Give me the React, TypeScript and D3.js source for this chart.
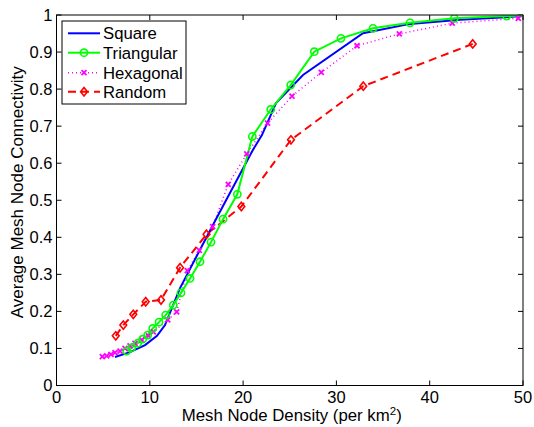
import React from "react";
import * as d3 from "d3";

const xTicks = [0, 10, 20, 30, 40, 50];
const yTicks = [0, 0.1, 0.2, 0.3, 0.4, 0.5, 0.6, 0.7, 0.8, 0.9, 1];
const yTickLabels = ["0", "0.1", "0.2", "0.3", "0.4", "0.5", "0.6", "0.7", "0.8", "0.9", "1"];

const squareX = [6.27, 7.88, 9.49, 10.77, 11.63, 13.24, 16.99, 21.06, 22.02, 23.53, 26.42, 32.85, 37.89, 43.25, 50];
const squareY = [0.077, 0.09, 0.109, 0.134, 0.163, 0.263, 0.444, 0.636, 0.676, 0.762, 0.838, 0.951, 0.976, 0.987, 0.997];

const triX = [7.52, 8.06, 8.7, 9.24, 9.77, 10.31, 10.99, 11.7, 12.52, 13.34, 14.31, 15.38, 16.56, 17.85, 19.38, 20.99, 22.96, 25.1, 27.63, 30.49, 33.92, 37.89, 42.64, 48.25, 54.5];
const triY = [0.093, 0.102, 0.114, 0.125, 0.136, 0.154, 0.171, 0.19, 0.217, 0.25, 0.289, 0.334, 0.387, 0.449, 0.516, 0.672, 0.745, 0.811, 0.901, 0.937, 0.964, 0.979, 0.991, 0.997, 1.0];

const hexX = [4.91, 5.38, 5.84, 6.27, 6.81, 7.34, 7.88, 8.41, 9.13, 9.84, 10.38, 11.92, 12.88, 14.02, 15.31, 16.74, 18.41, 20.39, 22.62, 25.24, 28.38, 32.21, 36.74, 42.42, 49.5];
const hexY = [0.078, 0.08, 0.084, 0.089, 0.093, 0.1, 0.107, 0.114, 0.123, 0.134, 0.145, 0.177, 0.199, 0.31, 0.365, 0.429, 0.543, 0.625, 0.708, 0.781, 0.845, 0.917, 0.949, 0.978, 0.991];

const randX = [6.35, 7.16, 8.23, 9.56, 11.2, 13.24, 16.08, 19.81, 25.13, 32.88, 44.61];
const randY = [0.134, 0.163, 0.192, 0.226, 0.231, 0.318, 0.408, 0.483, 0.663, 0.808, 0.922];

const seriesNames = ["Square", "Triangular", "Hexagonal", "Random"];

const W = 534;
const H = 427;
const L = 56.5, R = 523, T = 15, B = 385.5;
const FONT = "'Liberation Sans', Arial, Helvetica, sans-serif";

function zip(xs: number[], ys: number[]): [number, number][] {
  return xs.map((x, i) => [x, ys[i]]);
}

export default function App() {
  const x = d3.scaleLinear().domain([0, 50]).range([L, R]);
  const y = d3.scaleLinear().domain([0, 1]).range([B, T]);
  const line = d3.line<[number, number]>().x((d) => x(d[0])).y((d) => y(d[1]));

  const sq = zip(squareX, squareY);
  const tri = zip(triX, triY);
  const hex = zip(hexX, hexY);
  const rnd = zip(randX, randY);

  const circle = (cx: number, cy: number, key: any) => (
    <circle key={key} cx={cx} cy={cy} r={3.6} fill="none" stroke="#00ff00" strokeWidth={1.6} />
  );
  const cross = (cx: number, cy: number, key: any) => (
    <path key={key} d={`M${cx - 2.5},${cy - 2.5}L${cx + 2.5},${cy + 2.5}M${cx - 2.5},${cy + 2.5}L${cx + 2.5},${cy - 2.5}`} stroke="#ff00ff" strokeWidth={1.8} fill="none" />
  );
  const diamond = (cx: number, cy: number, key: any) => (
    <path key={key} d={`M${cx},${cy - 4.2}L${cx + 3.4},${cy}L${cx},${cy + 4.2}L${cx - 3.4},${cy}Z`} stroke="#ff0000" strokeWidth={1.6} fill="none" />
  );

  const tickLen = 5;
  const legX0 = 62, legY0 = 21, legW = 124, legH = 83;
  const legRows = [33.3, 52.7, 72.7, 91.7];
  const sampleX1 = 68, sampleX2 = 100, textX = 103;

  return (
    <svg width={W} height={H} style={{ position: "absolute", left: 0, top: 0, background: "#fff" }} fontFamily={FONT}>
      <defs>
        <clipPath id="plotclip">
          <rect x={L} y={T} width={R - L} height={B - T} />
        </clipPath>
      </defs>
      <rect x={0} y={0} width={W} height={H} fill="#fff" />
      <rect x={L} y={T} width={R - L} height={B - T} fill="#fff" />

      {xTicks.map((t) => (
        <g key={"xt" + t}>
          <line x1={x(t)} x2={x(t)} y1={B} y2={B - tickLen} stroke="#000" />
          <line x1={x(t)} x2={x(t)} y1={T} y2={T + tickLen} stroke="#000" />
          <text x={x(t)} y={B + 17.5} textAnchor="middle" fontSize={16.5}>{t}</text>
        </g>
      ))}
      {yTicks.map((t, i) => (
        <g key={"yt" + t}>
          <line x1={L} x2={L + tickLen} y1={y(t)} y2={y(t)} stroke="#000" />
          <line x1={R} x2={R - tickLen} y1={y(t)} y2={y(t)} stroke="#000" />
          <text x={L - 4} y={y(t)} dy="0.36em" textAnchor="end" fontSize={16.5}>{yTickLabels[i]}</text>
        </g>
      ))}

      <g clipPath="url(#plotclip)">
        <path d={line(hex) || ""} fill="none" stroke="#ff00ff" strokeWidth={1.5} strokeDasharray="1 3" />
        <path d={line(rnd) || ""} fill="none" stroke="#ff0000" strokeWidth={2} strokeDasharray="8 5" />
        <path d={line(sq) || ""} fill="none" stroke="#0000ff" strokeWidth={2} />
        <path d={line(tri) || ""} fill="none" stroke="#00ff00" strokeWidth={2} />
        {hex.map((d, i) => cross(x(d[0]), y(d[1]), "h" + i))}
        {rnd.map((d, i) => diamond(x(d[0]), y(d[1]), "r" + i))}
        {tri.map((d, i) => circle(x(d[0]), y(d[1]), "t" + i))}
      </g>

      <rect x={L} y={T} width={R - L} height={B - T} fill="none" stroke="#000" strokeWidth={1} />

      <rect x={legX0} y={legY0} width={legW} height={legH} fill="#fff" stroke="#000" strokeWidth={1} />
      <line x1={sampleX1} x2={sampleX2} y1={legRows[0]} y2={legRows[0]} stroke="#0000ff" strokeWidth={2} />
      <line x1={sampleX1} x2={sampleX2} y1={legRows[1]} y2={legRows[1]} stroke="#00ff00" strokeWidth={2} />
      {circle((sampleX1 + sampleX2) / 2, legRows[1], "lc")}
      <line x1={sampleX1} x2={sampleX2} y1={legRows[2]} y2={legRows[2]} stroke="#ff00ff" strokeWidth={1.5} strokeDasharray="1 3" />
      {cross((sampleX1 + sampleX2) / 2, legRows[2], "lx")}
      <line x1={sampleX1} x2={sampleX2} y1={legRows[3]} y2={legRows[3]} stroke="#ff0000" strokeWidth={2} strokeDasharray="8 5" />
      {diamond((sampleX1 + sampleX2) / 2, legRows[3], "ld")}
      {seriesNames.map((n, i) => (
        <text key={n} x={textX} y={legRows[i]} dy="0.36em" fontSize={16.7}>{n}</text>
      ))}

      <text x={(L + R) / 2 + 2} y={421} textAnchor="middle" fontSize={16.8}>
        Mesh Node Density (per km<tspan dy={-6.5} fontSize={11.5}>2</tspan><tspan dy={6.5}>)</tspan>
      </text>
      <text transform={`translate(23,${(T + B) / 2 - 8}) rotate(-90)`} textAnchor="middle" fontSize={17}>
        Average Mesh Node Connectivity
      </text>
    </svg>
  );
}
